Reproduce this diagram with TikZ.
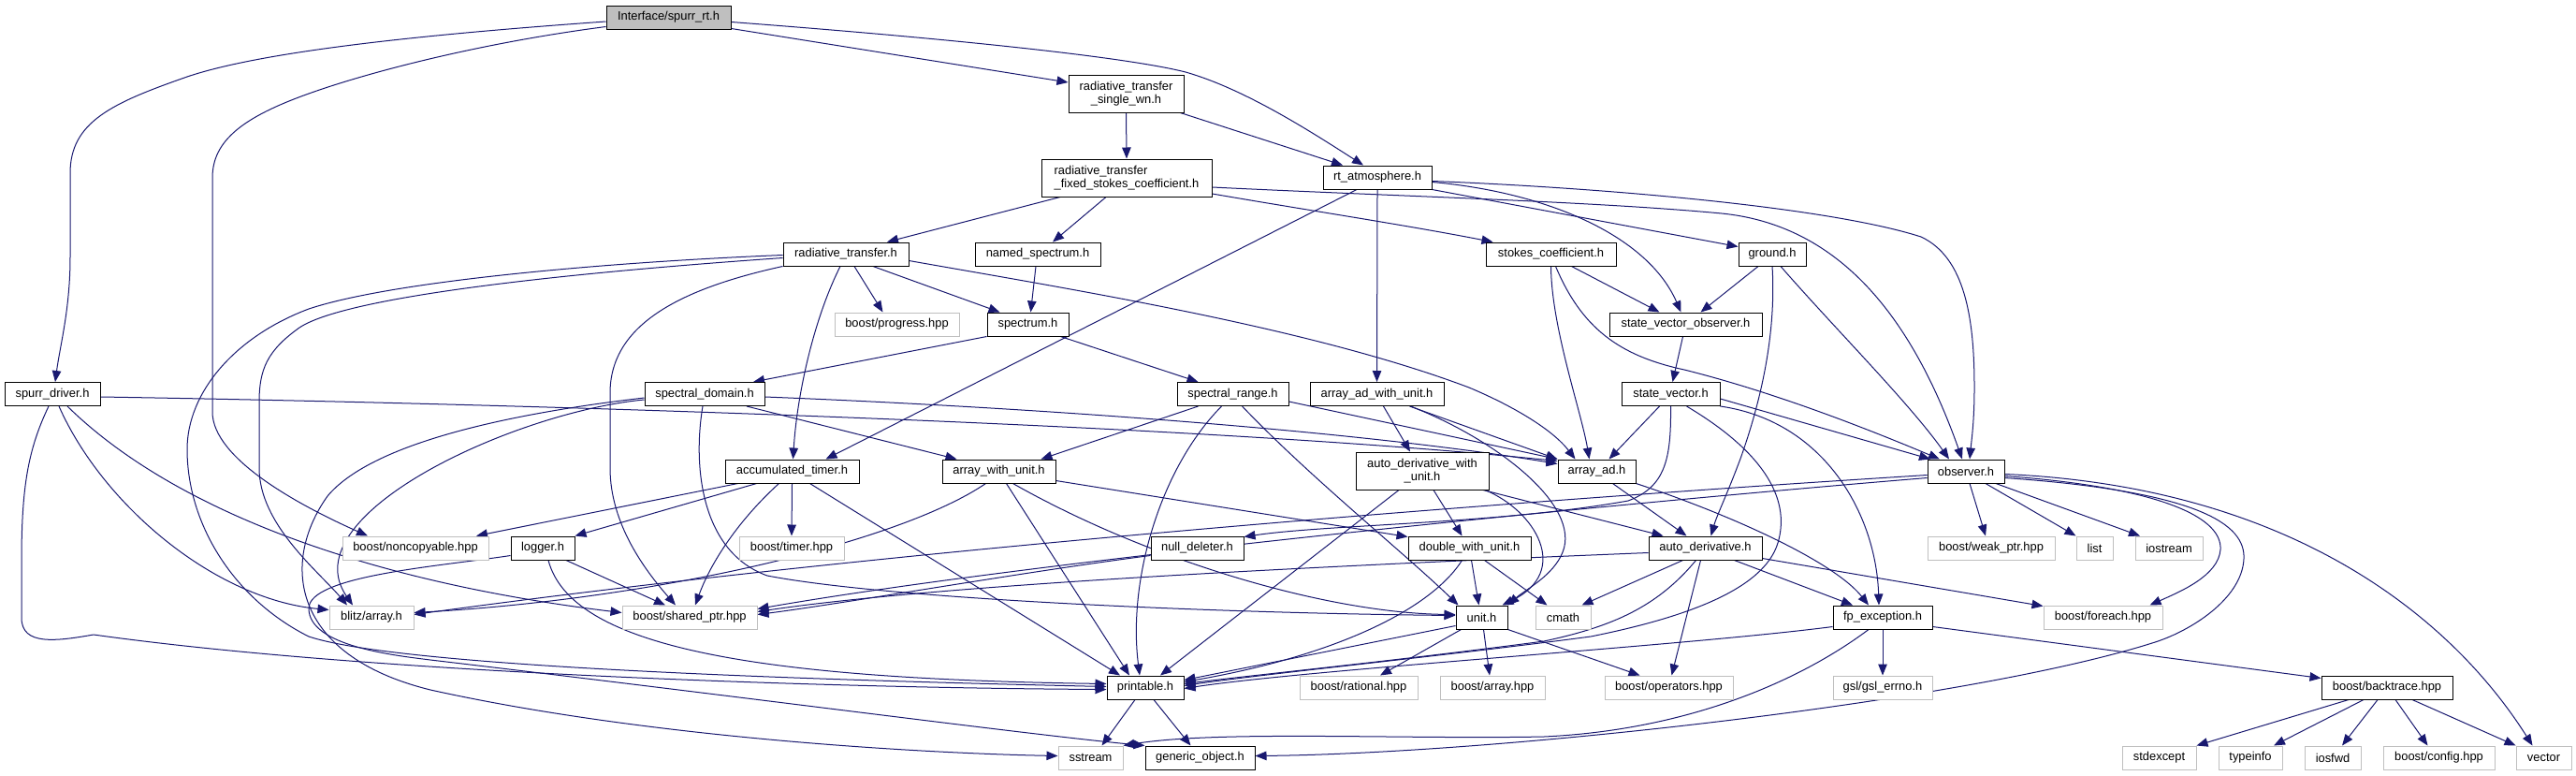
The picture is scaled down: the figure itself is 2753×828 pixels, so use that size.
\documentclass[tikz,border=0pt]{standalone}
\usepackage{fontspec}
\setmainfont{Liberation Sans}
\usetikzlibrary{arrows.meta}
\definecolor{edgec}{HTML}{191970}
\definecolor{lgray}{HTML}{BFBFBF}
\newcommand\nodefnt{\fontsize{12.9}{14.3}\selectfont}
\pgfdeclarelayer{bg}
\pgfsetlayers{bg,main}
\begin{document}
\begin{tikzpicture}[x=1pt,y=-1pt,
 nb/.style={draw=black,line width=1pt,fill=white,inner sep=0pt,minimum height=25pt,font=\nodefnt},
 ng/.style={nb,draw=lgray},
 dep/.style={draw=edgec,line width=1pt,-{Triangle[length=12pt,width=9.5pt]}}]
\useasboundingbox (0,0) rectangle (2753,828);
% row 0-2
\node[nb,fill=lgray,minimum width=133pt] (root) at (714.5,18.5) {Interface/spurr\_rt.h};
\node[nb,minimum width=123pt,minimum height=40pt,align=center] (swn) at (1203.5,100) {radiative\_transfer\\\_single\_wn.h};
\node[nb,minimum width=182pt,minimum height=40pt,align=left] (fsc) at (1204,190) {radiative\_transfer\\\_fixed\_stokes\_coefficient.h};
\node[nb,minimum width=116pt] (rta) at (1472,189.5) {rt\_atmosphere.h};
% row 3
\node[nb,minimum width=134pt] (rtr) at (904,271.5) {radiative\_transfer.h};
\node[nb,minimum width=134pt] (nsp) at (1109,271.5) {named\_spectrum.h};
\node[nb,minimum width=139pt] (stc) at (1657.5,271.5) {stokes\_coefficient.h};
\node[nb,minimum width=72pt] (gnd) at (1894,271.5) {ground.h};
% row 4
\node[ng,minimum width=133pt] (prog) at (958.5,346.5) {boost/progress.hpp};
\node[nb,minimum width=87pt] (spc) at (1098.5,346.5) {spectrum.h};
\node[nb,minimum width=163pt] (svo) at (1801.5,346.5) {state\_vector\_observer.h};
% row 5
\node[nb,minimum width=102pt] (drv) at (56,421) {spurr\_driver.h};
\node[nb,minimum width=128pt] (sdom) at (753,421) {spectral\_domain.h};
\node[nb,minimum width=119pt] (srng) at (1317.5,421) {spectral\_range.h};
\node[nb,minimum width=143pt] (aawu) at (1471.5,421) {array\_ad\_with\_unit.h};
\node[nb,minimum width=105pt] (sv) at (1785.5,421) {state\_vector.h};
% row 6
\node[nb,minimum width=143pt] (acc) at (846.5,503.5) {accumulated\_timer.h};
\node[nb,minimum width=121pt] (awu) at (1067.5,503.5) {array\_with\_unit.h};
\node[nb,minimum width=142pt,minimum height=40pt,align=center] (adwu) at (1520,503) {auto\_derivative\_with\\\_unit.h};
\node[nb,minimum width=83pt] (aad) at (1706.5,503.5) {array\_ad.h};
\node[nb,minimum width=82pt] (obs) at (2101,503.5) {observer.h};
% row 7
\node[ng,minimum width=156pt] (ncp) at (444,585.5) {boost/noncopyable.hpp};
\node[nb,minimum width=68pt] (log) at (580,585.5) {logger.h};
\node[ng,minimum width=112pt] (tim) at (846,585.5) {boost/timer.hpp};
\node[nb,minimum width=99pt] (nd) at (1279.5,585.5) {null\_deleter.h};
\node[nb,minimum width=131pt] (dwu) at (1570.5,585.5) {double\_with\_unit.h};
\node[nb,minimum width=121pt] (ad) at (1822.5,585.5) {auto\_derivative.h};
\node[ng,minimum width=136pt] (wp) at (2128,585.5) {boost/weak\_ptr.hpp};
\node[ng,minimum width=39pt] (lst) at (2238.5,585.5) {list};
\node[ng,minimum width=72pt] (ios) at (2318,585.5) {iostream};
% row 8
\node[ng,minimum width=90pt] (blz) at (397,659.5) {blitz/array.h};
\node[ng,minimum width=144pt] (shp) at (737,659.5) {boost/shared\_ptr.hpp};
\node[nb,minimum width=55pt] (unt) at (1583.5,659.5) {unit.h};
\node[ng,minimum width=59pt] (cm) at (1670.5,659.5) {cmath};
\node[nb,minimum width=106pt] (fpe) at (2012,659.5) {fp\_exception.h};
\node[ng,minimum width=127pt] (fe) at (2247.5,659.5) {boost/foreach.hpp};
% row 9
\node[nb,minimum width=82pt] (prt) at (1224,734.5) {printable.h};
\node[ng,minimum width=126pt] (rat) at (1452,734.5) {boost/rational.hpp};
\node[ng,minimum width=112pt] (bar) at (1595,734.5) {boost/array.hpp};
\node[ng,minimum width=137pt] (ops) at (1783.5,734.5) {boost/operators.hpp};
\node[ng,minimum width=106pt] (gsl) at (2012,734.5) {gsl/gsl\_errno.h};
\node[nb,minimum width=140pt] (bt) at (2551,734.5) {boost/backtrace.hpp};
% row 10
\node[ng,minimum width=69pt] (ss) at (1165.5,809.5) {sstream};
\node[nb,minimum width=117pt] (go) at (1282.5,809.5) {generic\_object.h};
\node[ng,minimum width=79pt] (sex) at (2307.5,809.5) {stdexcept};
\node[ng,minimum width=68pt] (ti) at (2405,809.5) {typeinfo};
\node[ng,minimum width=60pt] (iof) at (2493,809.5) {iosfwd};
\node[ng,minimum width=119pt] (cfg) at (2606.5,809.5) {boost/config.hpp};
\node[ng,minimum width=59pt] (vec) at (2718.5,809.5) {vector};

\begin{pgfonlayer}{bg}
\fill[white] (0,0) rectangle (2753,828);
% root
\draw[dep] ([yshift=-4.5pt]root.west) .. controls (450,37) and (280,55) .. (200,82) .. controls (120,110) and (75,130) .. (75,185) -- (75,275) .. controls (75,330) and (64,370) .. ([xshift=3pt]drv.north);
\draw[dep] ([yshift=-10pt]root.west) .. controls (520,45) and (400,75) .. (330,100) .. controls (260,125) and (227,150) .. (227,190) -- (227,440) .. controls (227,490) and (320,540) .. ([xshift=-51pt]ncp.north);
\draw[dep] ([yshift=-12pt]root.east) -- ([yshift=12pt]swn.west);
\draw[dep] ([yshift=-5pt]root.east) .. controls (1000,40) and (1200,60) .. (1267,77) .. controls (1330,95) and (1400,140) .. ([xshift=-15pt]rta.north);
% swn
\draw[dep] (swn.south) -- (fsc.north);
\draw[dep] ([xshift=58pt]swn.south) -- ([xshift=-37pt]rta.north);
% fsc
\draw[dep] ([xshift=-71pt]fsc.south) -- ([xshift=44pt]rtr.north);
\draw[dep] ([xshift=-22pt]fsc.south) -- ([xshift=16pt]nsp.north);
\draw[dep] ([yshift=-17pt]fsc.east) .. controls (1400,225) and (1500,240) .. ([xshift=-62pt]stc.north);
\draw[dep] ([yshift=-10pt]fsc.east) .. controls (1500,210) and (1700,215) .. (1840,228) .. controls (1960,240) and (2040,330) .. ([xshift=-4pt]obs.north);
% rta
\draw[dep] (rta.south) -- (aawu.north);
\draw[dep] ([xshift=-22pt]rta.south) -- ([xshift=36pt]acc.north);
\draw[dep] ([yshift=-5pt]rta.east) .. controls (1650,205) and (1760,250) .. ([xshift=-5pt]svo.north);
\draw[dep] ([yshift=-4pt]rta.east) .. controls (1700,200) and (1950,220) .. (2053,253) .. controls (2100,275) and (2110,340) .. (2110,414) .. controls (2110,450) and (2107,470) .. ([xshift=4pt]obs.north);
\draw[dep] (rta.south east) -- ([yshift=8pt]gnd.west);
% rtr
\draw[dep] ([yshift=-4pt]rtr.west) .. controls (700,285) and (380,310) .. (320,350) .. controls (285,375) and (277,395) .. (277,430) -- (277,500) .. controls (277,560) and (340,610) .. ([xshift=-26pt]blz.north);
\draw[dep] ([yshift=-1pt]rtr.west) .. controls (650,280) and (420,300) .. (330,330) .. controls (250,360) and (200,420) .. (200,480) .. controls (200,560) and (250,640) .. (330,680) .. controls (420,710) and (800,725) .. ([yshift=1pt]prt.west);
\draw[dep] (rtr.south west) .. controls (720,310) and (652,350) .. (652,420) -- (652,500) .. controls (652,560) and (690,610) .. ([xshift=-15pt]shp.north);
\draw[dep] ([xshift=-6pt]rtr.south) .. controls (870,340) and (852,420) .. ([xshift=1pt]acc.north);
\draw[dep] ([xshift=9pt]rtr.south) -- ([xshift=-15pt]prog.north);
\draw[dep] ([xshift=29pt]rtr.south) -- ([xshift=-30pt]spc.north);
\draw[dep] ([yshift=-7pt]rtr.east) .. controls (1150,310) and (1400,350) .. (1570,414) .. controls (1620,435) and (1660,460) .. ([xshift=-23pt]aad.north);
% nsp
\draw[dep] ([xshift=-2pt]nsp.south) -- ([xshift=3pt]spc.north);
% stc
\draw[dep] ([xshift=22pt]stc.south) -- ([xshift=-28pt]svo.north);
\draw[dep] (stc.south) .. controls (1658,350) and (1690,440) .. ([xshift=-8pt]aad.north);
\draw[dep] ([xshift=5pt]stc.south) .. controls (1690,350) and (1730,380) .. (1800,395) .. controls (1900,420) and (2000,460) .. ([xshift=-28pt]obs.north);
% gnd
\draw[dep] ([xshift=-15pt]gnd.south) -- ([xshift=16pt]svo.north);
\draw[dep] ([xshift=9pt]gnd.south) .. controls (1960,350) and (2040,430) .. ([xshift=-18pt]obs.north);
\draw[dep] (gnd.south) .. controls (1898,350) and (1885,420) .. (1860,490) .. controls (1845,530) and (1835,550) .. ([xshift=6pt]ad.north);
% svo
\draw[dep] ([xshift=-3pt]svo.south) -- ([xshift=2pt]sv.north);
% spc
\draw[dep] (spc.south west) -- ([xshift=52pt]sdom.north);
\draw[dep] ([xshift=35pt]spc.south) -- ([xshift=-37pt]srng.north);
% drv
\draw[dep] ([yshift=-3pt]drv.east) .. controls (600,432) and (1300,455) .. ([yshift=11pt]aad.west);
\draw[dep] ([xshift=7pt]drv.south) .. controls (110,540) and (230,640) .. ([yshift=8pt]blz.west);
\draw[dep] ([xshift=16pt]drv.south) .. controls (180,540) and (380,620) .. ([yshift=5pt]shp.west);
\draw[dep] ([xshift=-4pt]drv.south) .. controls (30,480) and (23,520) .. (23,600) -- (23,660) .. controls (23,690) and (60,685) .. (100,678) .. controls (400,720) and (900,735) .. ([yshift=-2pt]prt.west);
% sdom
\draw[dep] ([yshift=-3pt]sdom.east) .. controls (1100,435) and (1450,460) .. ([yshift=8pt]aad.west);
\draw[dep] ([xshift=45pt]sdom.south) -- ([xshift=-45pt]awu.north);
\draw[dep] ([xshift=-2pt]sdom.south) .. controls (740,500) and (750,590) .. (820,615) .. controls (950,640) and (1300,655) .. ([yshift=2pt]unt.west);
\draw[dep] ([yshift=-6pt]sdom.west) .. controls (550,440) and (310,550) .. ([xshift=-20pt]blz.north);
\draw[dep] ([yshift=-4pt]sdom.west) .. controls (560,440) and (400,470) .. (350,530) .. controls (300,600) and (310,700) .. (460,737) .. controls (700,790) and (1000,805) .. ([yshift=2pt]ss.west);
% srng
\draw[dep] ([xshift=-37pt]srng.south) -- ([xshift=45pt]awu.north);
\draw[dep] ([xshift=-12pt]srng.south) .. controls (1240,500) and (1205,620) .. ([xshift=-6pt]prt.north);
\draw[dep] ([xshift=10pt]srng.south) .. controls (1400,510) and (1500,590) .. ([xshift=-25pt]unt.north);
\draw[dep] ([yshift=-8pt]srng.east) -- ([yshift=13pt]aad.west);
% aawu
\draw[dep] ([xshift=35pt]aawu.south) -- (aad.north west);
\draw[dep] ([xshift=7pt]aawu.south) -- ([xshift=-13pt]adwu.north);
\draw[dep] ([xshift=36pt]aawu.south) .. controls (1600,470) and (1690,540) .. (1670,590) .. controls (1660,615) and (1630,630) .. (unt.north east);
% adwu
\draw[dep] ([xshift=12pt]adwu.south) -- ([xshift=-8pt]dwu.north);
\draw[dep] ([xshift=67pt]adwu.south) .. controls (1640,545) and (1680,610) .. ([xshift=22pt]unt.north);
\draw[dep] ([xshift=65pt]adwu.south) -- ([xshift=-45pt]ad.north);
\draw[dep] ([xshift=-25pt]adwu.south) -- ([xshift=16pt]prt.north);
% awu
\draw[dep] ([yshift=-10pt]awu.east) -- ([yshift=12pt]dwu.west);
\draw[dep] ([xshift=8pt]awu.south) -- ([xshift=-17pt]prt.north);
\draw[dep] ([xshift=15pt]awu.south) .. controls (1230,600) and (1420,655) .. ([yshift=3pt]unt.west);
\draw[dep] ([xshift=-14pt]awu.south) .. controls (960,580) and (700,640) .. ([yshift=5pt]blz.east);
% acc
\draw[dep] ([xshift=-58pt]acc.south) -- ([xshift=65pt]ncp.north);
\draw[dep] ([xshift=-38pt]acc.south) -- (log.north east);
\draw[dep] (acc.south) -- (tim.north);
\draw[dep] ([xshift=-14pt]acc.south) .. controls (790,555) and (760,600) .. ([xshift=6pt]shp.north);
\draw[dep] ([xshift=19pt]acc.south) -- ([xshift=-27pt]prt.north);
% log
\draw[dep] ([xshift=25pt]log.south) -- ([xshift=-26pt]shp.north);
\draw[dep] ([xshift=6pt]log.south) .. controls (610,690) and (800,725) .. ([yshift=4pt]prt.west);
\draw[dep] ([yshift=-8pt]log.west) .. controls (470,605) and (330,615) .. (330,650) .. controls (330,690) and (420,700) .. (460,705) .. controls (800,745) and (1100,785) .. (go.north west);
% dwu
\draw[dep] ([xshift=2pt]dwu.south) -- ([xshift=-3pt]unt.north);
\draw[dep] ([xshift=16pt]dwu.south) -- ([xshift=-17pt]cm.north);
\draw[dep] ([xshift=-8pt]dwu.south) .. controls (1530,650) and (1430,700) .. ([yshift=6pt]prt.east);
% ad
\draw[dep] ([xshift=-24pt]ad.south) -- ([xshift=20pt]cm.north);
\draw[dep] ([xshift=-5pt]ad.south) -- ([xshift=3pt]ops.north);
\draw[dep] ([xshift=-10pt]ad.south) .. controls (1770,650) and (1720,670) .. (1650,685) .. controls (1500,705) and (1350,720) .. ([yshift=4pt]prt.east);
\draw[dep] ([xshift=31pt]ad.south) -- ([xshift=-32pt]fpe.north);
\draw[dep] ([yshift=-11pt]ad.east) -- ([yshift=12pt]fe.west);
\draw[dep] ([yshift=-5pt]ad.west) .. controls (1400,605) and (1000,625) .. ([yshift=6pt]shp.east);
% aad
\draw[dep] ([xshift=17pt]aad.south) -- ([xshift=-20pt]ad.north);
\draw[dep] (aad.south east) .. controls (1850,550) and (1960,600) .. ([xshift=-15pt]fpe.north);
% sv
\draw[dep] ([xshift=-12pt]sv.south) -- ([xshift=13pt]aad.north);
\draw[dep] ([yshift=-5pt]sv.east) -- ([xshift=-38pt]obs.north);
\draw[dep] (sv.south east) .. controls (1950,450) and (2005,550) .. ([xshift=-4pt]fpe.north);
\draw[dep] ([xshift=17pt]sv.south) .. controls (1880,480) and (1915,530) .. (1900,580) .. controls (1885,630) and (1800,660) .. (1700,680) .. controls (1550,700) and (1350,720) .. ([yshift=2pt]prt.east);
\draw[dep] (sv.south) .. controls (1786,490) and (1780,520) .. (1740,535) .. controls (1600,560) and (1420,560) .. ([yshift=12pt]nd.east);
% obs
\draw[dep] ([xshift=4pt]obs.south) -- ([xshift=-6pt]wp.north);
\draw[dep] ([xshift=21pt]obs.south) -- (lst.north west);
\draw[dep] ([xshift=32pt]obs.south) -- ([xshift=-31pt]ios.north);
\draw[dep] ([yshift=-5pt]obs.east) .. controls (2300,520) and (2375,550) .. (2373,587) .. controls (2371,615) and (2330,632) .. ([xshift=50pt]fe.north);
\draw[dep] ([yshift=-7pt]obs.east) .. controls (2350,525) and (2400,560) .. (2398,597) .. controls (2396,640) and (2340,675) .. (2300,687) .. controls (2100,750) and (1600,805) .. ([yshift=2pt]go.east);
\draw[dep] ([yshift=-3pt]obs.east) .. controls (2450,520) and (2620,660) .. ([xshift=-12pt]vec.north);
\draw[dep] ([yshift=-4pt]obs.west) .. controls (1700,530) and (1000,580) .. ([yshift=3pt]blz.east);
\draw[dep] ([yshift=-7pt]obs.west) .. controls (1700,540) and (1100,600) .. ([yshift=9pt]shp.east);
% nd
\draw[dep] ([yshift=-8pt]nd.west) .. controls (1100,610) and (900,645) .. ([yshift=3pt]shp.east);
% fpe
\draw[dep] (fpe.south) -- (gsl.north);
\draw[dep] ([yshift=-10pt]fpe.east) -- ([yshift=10pt]bt.west);
\draw[dep] ([yshift=-10pt]fpe.west) .. controls (1800,690) and (1400,715) .. ([yshift=-1pt]prt.east);
\draw[dep] ([xshift=-15pt]fpe.south) .. controls (1920,730) and (1800,780) .. (1650,787) .. controls (1500,790) and (1300,780) .. (ss.north east);
% unt
\draw[dep] ([xshift=-22pt]unt.south) -- ([xshift=23pt]rat.north);
\draw[dep] ([xshift=2pt]unt.south) -- ([xshift=-3pt]bar.north);
\draw[dep] (unt.south east) -- ([xshift=-31pt]ops.north);
\draw[dep] ([yshift=-9pt]unt.west) -- ([yshift=8pt]prt.east);
% prt
\draw[dep] ([xshift=-11pt]prt.south) -- ([xshift=12pt]ss.north);
\draw[dep] ([xshift=9pt]prt.south) -- ([xshift=-10pt]go.north);
% bt
\draw[dep] ([xshift=-41pt]bt.south) -- (sex.north east);
\draw[dep] ([xshift=-25pt]bt.south) -- ([xshift=25pt]ti.north);
\draw[dep] ([xshift=-10pt]bt.south) -- ([xshift=10pt]iof.north);
\draw[dep] ([xshift=9pt]bt.south) -- ([xshift=-12pt]cfg.north);
\draw[dep] ([xshift=27pt]bt.south) -- (vec.north west);
\end{pgfonlayer}
\end{tikzpicture}
\end{document}
